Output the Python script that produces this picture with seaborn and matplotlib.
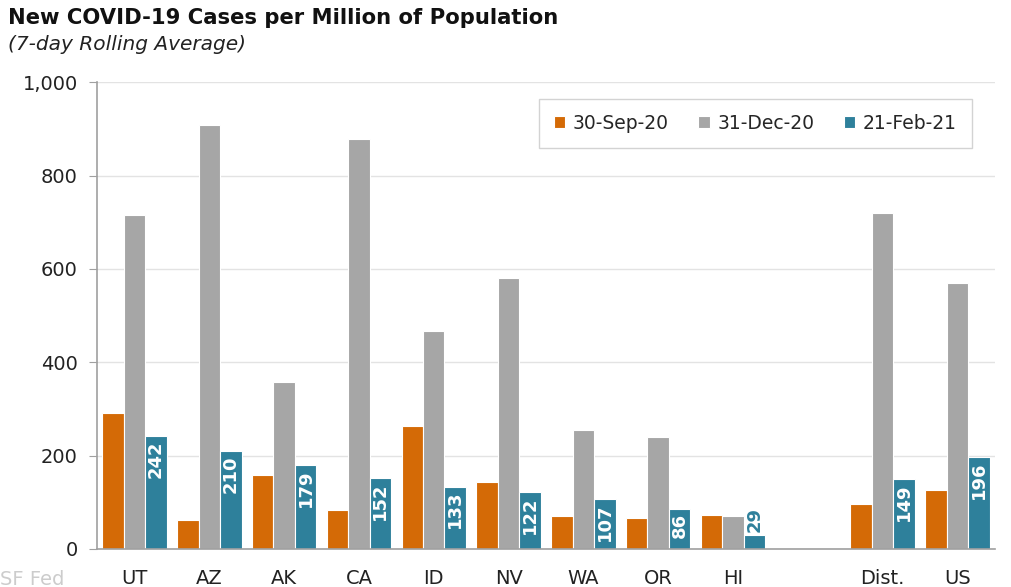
import matplotlib.pyplot as plt
import matplotlib.ticker as mticker
import pandas as pd
import seaborn as sns

regions = ["UT", "AZ", "AK", "CA", "ID", "NV", "WA", "OR", "HI", " ", "Dist.", "US"]
dates = ["30-Sep-20", "31-Dec-20", "21-Feb-21"]
sep20 = [291, 62, 158, 83, 263, 143, 71, 66, 73, None, 96, 126]
dec20 = [715, 908, 358, 878, 467, 580, 255, 240, 71, None, 719, 570]
feb21 = [242, 210, 179, 152, 133, 122, 107, 86, 29, None, 149, 196]
colors = ["#D46A06", "#A6A6A6", "#2E809B"]

rows = []
for d, vals in zip(dates, [sep20, dec20, feb21]):
    for r, v in zip(regions, vals):
        rows.append({"region": r, "date": d, "cases": v})
df = pd.DataFrame(rows)

sns.set_style("white")
plt.rcParams['font.family'] = ['DejaVu Sans']

fig = plt.figure(figsize=(10.12, 5.87), dpi=100)
ax = fig.add_axes([0.096, 0.065, 0.887, 0.795])

sns.barplot(data=df, x="region", y="cases", hue="date", order=regions, hue_order=dates,
            palette=colors, saturation=1, width=0.86, edgecolor="white", linewidth=0.8, ax=ax)

# value labels on the Feb-21 bars
teal = ax.containers[2]
for bar in teal:
    h = bar.get_height()
    if not h or h != h:
        continue
    cx = bar.get_x() + bar.get_width() / 2
    if h > 60:
        ax.text(cx, h - 9, f"{h:.0f}", rotation=90, ha="center", va="top",
                color="white", fontsize=13, fontweight="bold")
    else:
        ax.text(cx, h + 8, f"{h:.0f}", rotation=90, ha="center", va="bottom",
                color=colors[2], fontsize=13, fontweight="bold")

ax.set_ylim(0, 1000)
ax.set_yticks(range(0, 1001, 200))
ax.yaxis.set_major_formatter(mticker.FuncFormatter(lambda v, p: f"{v:,.0f}"))
ax.yaxis.grid(True, color="#E3E3E3", linewidth=1)
ax.set_axisbelow(True)
ax.set_xlim(-0.5, len(regions) - 0.5)
ax.set_xlabel("")
ax.set_ylabel("")
for s in ["top", "right"]:
    ax.spines[s].set_visible(False)
for s in ["left", "bottom"]:
    ax.spines[s].set_color("#A0A0A0")
    ax.spines[s].set_linewidth(1.2)
ax.tick_params(axis="y", left=True, length=6, color="#A0A0A0", labelsize=14, pad=8, labelcolor="#222222")
ax.tick_params(axis="x", bottom=False, labelsize=14, pad=11, labelcolor="#222222")

leg = ax.legend(loc="upper right", bbox_to_anchor=(0.985, 0.985), ncol=3, fontsize=13.5,
                frameon=True, fancybox=False, edgecolor="#C8C8C8", handlelength=0.6,
                handleheight=0.6, handletextpad=0.4, columnspacing=1.6,
                borderpad=0.8, title=None)
leg.get_frame().set_linewidth(1)

fig.text(0.008, 0.97, "New COVID-19 Cases per Million of Population", fontsize=15.2,
         fontweight="bold", va="center", color="#111111")
fig.text(0.008, 0.925, "(7-day Rolling Average)", fontsize=14.5, style="italic",
         va="center", color="#222222")
fig.text(0.0, 0.013, "SF Fed", fontsize=14, color="#CCCCCC", va="center")

fig.savefig("out.png", dpi=100)
